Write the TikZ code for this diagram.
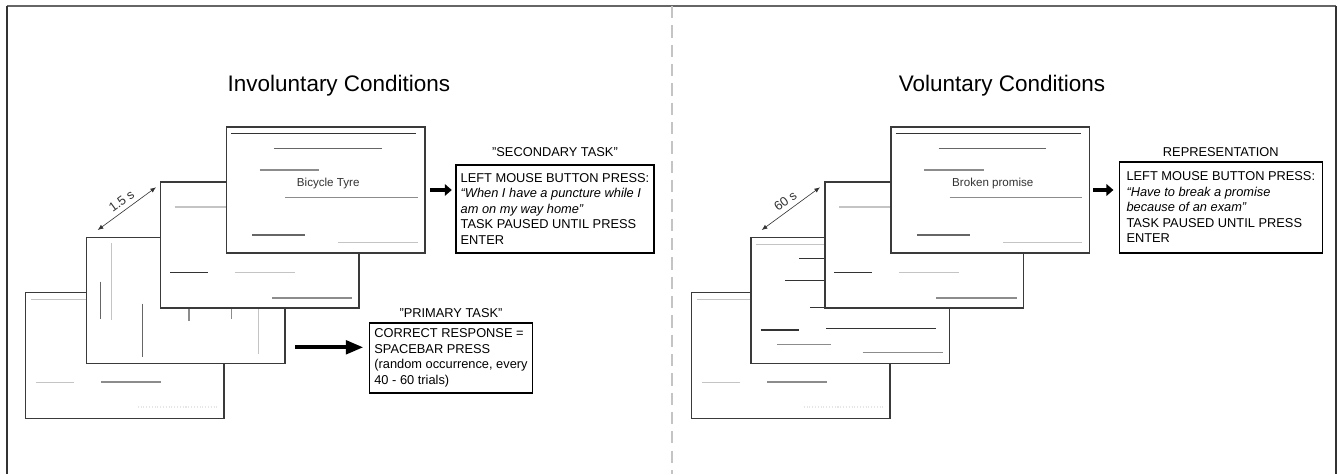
\documentclass[tikz,border=0pt]{standalone}
\usepackage{fontspec}
\setmainfont{Liberation Sans}
\usetikzlibrary{arrows.meta,positioning,calc}

\definecolor{cardline}{HTML}{3A3A3A}
\definecolor{inkdark}{HTML}{333333}
\definecolor{inkmid}{HTML}{666666}
\definecolor{inkgrey}{HTML}{8C8C8C}
\definecolor{inklight}{HTML}{C4C4C4}
\definecolor{inkfaint}{HTML}{E6E6E6}

\tikzset{
  screen/.style={draw=cardline, fill=white, line width=0.8pt, anchor=north west, inner sep=0pt, minimum width=3.97cm, minimum height=2.52cm},
  taskbox/.style={draw=black, line width=0.7pt, anchor=north west, align=left, inner xsep=2.7pt, font=\fontsize{7.3}{8.8}\selectfont},
  tasktitle/.style={inner sep=0pt, font=\fontsize{7.3}{8.8}\selectfont},
  heading/.style={font=\fontsize{12.8}{15}\selectfont},
  cardtext/.style={font=\fontsize{6.6}{8}\selectfont, text=inkdark},
  gaptext/.style={font=\fontsize{7.3}{8.8}\selectfont, text=inkdark, inner sep=1pt},
  interval/.style={{Latex[length=3.2pt,width=2.6pt]}-{Latex[length=3.2pt,width=2.6pt]}, draw=inkdark, line width=0.35pt},
  fatarrow/.style={-{Triangle[length=10pt,width=7.6pt]}, line width=2.3pt},
  slimarrow/.style={-{Triangle[length=4pt,width=6.6pt]}, line width=2pt},
}

\newcommand{\firstscreen}[1]{%
  \begin{scope}[shift={(#1.north west)}]
    \draw[inklight, line width=0.6pt] (6,8) -- (61,8);
    \draw[inklight, line width=0.6pt] (11,91) -- (49,91);
    \draw[inkgrey, line width=0.7pt] (76,90.3) -- (135.7,90.3);
    \draw[inkfaint, line width=0.6pt, densely dotted] (112.7,115.3) -- (191.7,115.3);
  \end{scope}}

\newcommand{\thirdscreen}[1]{%
  \begin{scope}[shift={(#1.north west)}]
    \draw[inklight, line width=1.1pt] (14.7,25.7) -- (66,25.7);
    \draw[inkdark, line width=0.6pt] (10,91) -- (47.7,91);
    \draw[inklight, line width=0.6pt] (75,91) -- (134.7,91);
    \draw[inkgrey, line width=1.1pt] (112,116.7) -- (192.3,116.7);
  \end{scope}}

\newcommand{\topscreen}[2]{%
  \begin{scope}[shift={(#1.north west)}]
    \draw[inkdark, line width=0.6pt] (5.3,7.4) -- (190.6,7.4);
    \draw[inkmid, line width=0.6pt] (48.3,22) -- (156,22);
    \draw[inkgrey, line width=0.6pt] (34,43.7) -- (93.6,43.7);
    \node[cardtext] (#1text) at (102.5,57) {#2};
    \draw[inkgrey, line width=0.6pt] (59.3,71) -- (192,71);
    \draw[inkmid, line width=1.1pt] (26.6,108.4) -- (79.6,108.4);
    \draw[inklight, line width=0.6pt] (112.6,116.4) -- (192,116.4);
  \end{scope}}

\begin{document}
\begin{tikzpicture}[x=0.02cm, y=-0.02cm]
  \useasboundingbox (0,0) rectangle (1338,474);

  \draw[inkmid, line width=0.9pt] (6.5,6) -- (1335.7,6);
  \draw[inkdark, line width=1pt] (6.7,474) -- (6.7,6);
  \draw[inkdark, line width=1pt] (1335.7,6) -- (1335.7,474);
  \draw[inklight, line width=0.8pt, dash pattern=on 7pt off 4pt] (672,6) -- (672,474);

  \node[heading] (invhead) at (339,86) {Involuntary Conditions};
  \node[heading] (volhead) at (1002,86) {Voluntary Conditions};

  % involuntary
  \node[screen] (inv1) at (25,291.7) {};
  \firstscreen{inv1}
  \node[screen] (inv2) at (86,236.7) {};
  \draw[inklight, line width=0.6pt] (111.3,243) -- (111.3,320);
  \draw[inkmid, line width=0.7pt] (100.7,281.7) -- (100.7,319.3);
  \draw[inkmid, line width=0.7pt] (142.7,303.7) -- (142.7,356.7);
  \draw[inkgrey, line width=0.7pt] (189,300) -- (189,320.7);
  \draw[inkgrey, line width=0.7pt] (231.7,300) -- (231.7,319.3);
  \draw[inklight, line width=0.6pt] (258.7,300) -- (258.7,354.3);
  \node[screen] (inv3) at (160,181.3) {};
  \thirdscreen{inv3}
  \node[screen] (inv4) at (225.7,126.3) {};
  \topscreen{inv4}{Bicycle Tyre}

  \draw[interval] ($(inv2.north west)+(11.7,-6.7)$) -- ($(inv3.north west)+(-4,6)$)
    node[midway, above=1.5pt, sloped, gaptext] (invgap) {1.5 s};

  \node[taskbox, minimum width=3.95cm, minimum height=1.76cm] (sec) at (455.3,164.3)
    {LEFT MOUSE BUTTON PRESS:\\ \textit{“When I have a puncture while I}\\ \textit{am on my way home”}\\ TASK PAUSED UNTIL PRESS\\ ENTER};
  \node[tasktitle, above=4.2pt of sec] (sectitle) {"SECONDARY TASK"};
  \draw[slimarrow, shorten <=2.8pt, shorten >=2pt] (inv4.east) -- (inv4.east -| sec.west);

  \node[taskbox, minimum width=3.254cm, minimum height=1.4cm] (prim) at (369,322.3)
    {CORRECT RESPONSE =\\ SPACEBAR PRESS\\ (random occurrence, every\\ 40 - 60 trials)};
  \node[tasktitle, above=2.6pt of prim] (primtitle) {"PRIMARY TASK"};
  \coordinate (primstart) at (295,347.3);
  \draw[fatarrow, shorten >=3.2pt] (primstart) -- (primstart -| prim.west);

  % voluntary
  \node[screen] (vol1) at (691,291.7) {};
  \firstscreen{vol1}
  \node[screen] (vol2) at (750.3,236.7) {};
  \draw[inklight, line width=0.7pt] (755.7,244.3) -- (830,244.3);
  \draw[inkdark, line width=0.6pt] (799,258.3) -- (830,258.3);
  \draw[inkdark, line width=0.6pt] (785,280.3) -- (830,280.3);
  \draw[inkdark, line width=0.6pt] (810,307.3) -- (830,307.3);
  \draw[inkdark, line width=0.6pt] (760.7,330) -- (798.7,330);
  \draw[inkdark, line width=0.6pt] (826.3,328.3) -- (935.7,328.3);
  \draw[inkgrey, line width=0.7pt] (777.3,344.3) -- (831.3,344.3);
  \draw[inkgrey, line width=0.7pt] (862.7,352.3) -- (942.7,352.3);
  \node[screen] (vol3) at (824.3,181.3) {};
  \thirdscreen{vol3}
  \node[screen] (vol4) at (890.3,126.3) {};
  \topscreen{vol4}{Broken promise}

  \draw[interval] ($(vol2.north west)+(11.4,-6.7)$) -- ($(vol3.north west)+(-4.3,6)$)
    node[midway, above=1.5pt, sloped, gaptext] (volgap) {60 s};

  \node[taskbox, minimum width=4.06cm, minimum height=1.82cm] (rep) at (1118.7,161.3)
    {LEFT MOUSE BUTTON PRESS:\\ \textit{“Have to break a promise}\\ \textit{because of an exam”}\\ TASK PAUSED UNTIL PRESS\\ ENTER};
  \node[tasktitle, above=2.7pt of rep] (reptitle) {REPRESENTATION};
  \draw[slimarrow, shorten <=1.8pt, shorten >=3pt] (vol4.east) -- (vol4.east -| rep.west);
\end{tikzpicture}
\end{document}
